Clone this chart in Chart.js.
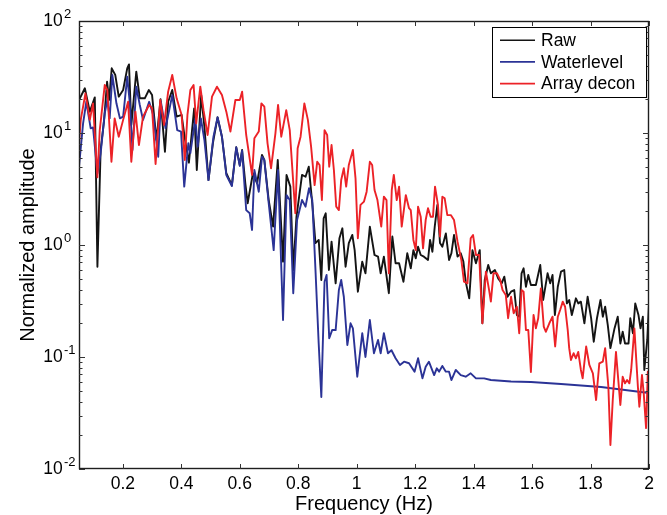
<!DOCTYPE html>
<html>
<head>
<meta charset="utf-8">
<script src="https://cdn.jsdelivr.net/npm/chart.js@4.4.1/dist/chart.umd.min.js"></script>
<style>
html,body{margin:0;padding:0;background:#fff;}
canvas{display:block;}
</style>
</head>
<body>
<canvas id="c" width="667" height="515"></canvas>
<script>
const seriesLabels = ['Raw', 'Waterlevel', 'Array decon'];
const xTickValues = [0.2, 0.4, 0.6, 0.8, 1.0, 1.2, 1.4, 1.6, 1.8, 2.0];
const yTickValues = [0.01, 0.1, 1, 10, 100];

const rawFreq = [0.050,0.070,0.087,0.104,0.113,0.124,0.136,0.146,0.153,0.162,
0.174,0.186,0.201,0.215,0.221,0.229,0.246,0.258,0.275,0.289,
0.300,0.315,0.329,0.344,0.355,0.369,0.384,0.401,0.412,0.426,
0.444,0.453,0.468,0.479,0.493,0.508,0.524,0.539,0.554,0.573,
0.588,0.600,0.608,0.619,0.627,0.645,0.659,0.676,0.684,0.699,
0.714,0.730,0.748,0.760,0.773,0.783,0.794,0.813,0.825,0.836,
0.848,0.859,0.870,0.879,0.887,0.894,0.905,0.914,0.928,0.941,
0.951,0.962,0.973,0.985,0.993,1.004,1.019,1.030,1.045,1.061,
1.073,1.082,1.093,1.110,1.122,1.133,1.145,1.160,1.173,1.185,
1.194,1.202,1.210,1.219,1.230,1.244,1.251,1.259,1.267,1.276,
1.285,1.293,1.305,1.316,1.324,1.333,1.345,1.356,1.365,1.373,
1.385,1.396,1.408,1.421,1.430,1.438,1.450,1.459,1.473,1.484,
1.496,1.505,1.516,1.528,1.539,1.548,1.556,1.564,1.571,1.579,
1.587,1.596,1.613,1.628,1.638,1.653,1.662,1.670,1.678,1.688,
1.699,1.710,1.719,1.727,1.736,1.750,1.758,1.767,1.779,1.790,
1.802,1.811,1.822,1.834,1.842,1.850,1.859,1.868,1.882,1.893,
1.902,1.910,1.918,1.930,1.936,1.945,1.953,1.964,1.971,1.979,
1.984,1.994,2.000];
const rawAmp = [19.7,25.1,15.5,20.8,0.64,7.05,13.1,28.7,19.7,37.8,
33,21.1,24.2,37.8,41,11.8,35.3,20.4,20.4,24.2,
21.8,8.66,20,6.81,19,24.2,14,14.5,8.97,5.43,
16.6,4.67,21.8,11.4,3.8,8.09,13.8,9.27,4.37,3.43,
7.45,5.18,7.05,3.56,2.36,4.37,3.56,6.36,5.74,2.52,
1.46,5.74,0.71,4.22,3.32,0.598,1.79,4.22,4.07,5.0,
2.36,1.04,1.11,0.487,1.73,1.92,0.598,1.07,0.455,1.15,
1.41,0.64,1.04,1.23,0.90,0.383,0.71,0.559,1.46,0.814,
0.787,0.559,0.787,0.371,1.19,0.687,0.687,0.47,0.843,0.619,
0.90,0.761,0.965,0.814,0.787,0.735,1.11,0.871,1.46,2.28,
1.04,0.965,1.27,0.735,0.843,1.23,0.787,0.843,0.71,0.47,
0.334,0.90,0.687,0.90,0.2,0.487,0.663,0.559,0.598,0.504,
0.455,0.521,0.345,0.383,0.396,0.237,0.229,0.559,0.619,0.424,
0.54,0.44,0.44,0.663,0.323,0.559,0.455,0.54,0.237,0.424,
0.578,0.598,0.301,0.323,0.237,0.334,0.301,0.312,0.2,0.345,
0.222,0.137,0.222,0.323,0.229,0.281,0.193,0.12,0.18,0.229,
0.132,0.168,0.132,0.132,0.222,0.163,0.301,0.237,0.18,0.229,
0.0766,0.142,0.303];

const wlFreq = [0.050,0.064,0.075,0.090,0.098,0.113,0.124,0.138,0.147,0.155,
0.164,0.178,0.190,0.201,0.215,0.224,0.233,0.246,0.258,0.269,
0.290,0.304,0.321,0.330,0.346,0.369,0.386,0.399,0.410,0.424,
0.431,0.448,0.456,0.467,0.479,0.493,0.510,0.524,0.539,0.554,
0.573,0.588,0.600,0.608,0.622,0.634,0.642,0.650,0.665,0.676,
0.684,0.699,0.716,0.731,0.748,0.760,0.771,0.783,0.796,0.813,
0.825,0.837,0.848,0.859,0.870,0.879,0.890,0.897,0.906,0.916,
0.928,0.939,0.947,0.956,0.968,0.979,0.987,1.002,1.019,1.030,
1.045,1.059,1.073,1.082,1.093,1.107,1.119,1.133,1.148,1.162,
1.179,1.198,1.210,1.225,1.236,1.247,1.265,1.274,1.282,1.293,
1.305,1.316,1.324,1.339,1.356,1.373,1.390,1.408,1.436,1.459,
1.528,1.596,1.699,1.836,2.000];
const wlAmp = [5.0,12.2,19,11,11.2,4.37,6.59,15,19.7,13.5,
33,18.4,13.5,14,31.8,18.4,7.05,25.9,17.8,13.1,
19,14.5,6.14,19,11,21.8,10.6,10.3,3.32,8.09,
6.63,13.5,7.55,13.5,8.66,3.8,9.27,13.8,9.27,4.22,
3.36,7.45,5.08,6.95,2.05,1.92,1.36,4.67,2.99,6.14,
5.74,2.36,0.90,4.67,0.214,2.79,2.52,0.371,1.67,2.52,
2.2,3.21,2.52,0.598,0.132,0.044,0.47,0.54,0.147,0.174,
0.174,0.396,0.487,0.345,0.128,0.2,0.18,0.0667,0.163,0.1,
0.214,0.108,0.142,0.108,0.163,0.108,0.115,0.0974,0.0849,0.0908,
0.0879,0.074,0.0974,0.0645,0.0819,0.0908,0.069,0.0793,0.074,0.0832,
0.074,0.074,0.0623,0.0766,0.069,0.0667,0.0715,0.0645,0.0645,0.0623,
0.0605,0.0598,0.0574,0.054,0.0477];

const adFreq = [0.050,0.056,0.072,0.087,0.098,0.113,0.121,0.138,0.147,0.161,
0.172,0.186,0.201,0.218,0.229,0.243,0.255,0.269,0.290,0.300,
0.312,0.328,0.341,0.355,0.369,0.384,0.401,0.412,0.421,0.431,
0.442,0.451,0.465,0.476,0.490,0.505,0.522,0.539,0.554,0.568,
0.585,0.600,0.608,0.622,0.642,0.650,0.665,0.674,0.684,0.695,
0.707,0.722,0.731,0.742,0.759,0.771,0.790,0.798,0.808,0.821,
0.833,0.844,0.856,0.865,0.873,0.881,0.890,0.899,0.906,0.914,
0.922,0.930,0.939,0.947,0.956,0.964,0.973,0.987,0.996,1.004,
1.013,1.025,1.034,1.045,1.053,1.061,1.071,1.084,1.093,1.102,
1.110,1.120,1.127,1.137,1.145,1.154,1.168,1.179,1.185,1.194,
1.202,1.210,1.219,1.227,1.236,1.244,1.253,1.261,1.268,1.278,
1.285,1.293,1.301,1.310,1.322,1.333,1.345,1.358,1.367,1.379,
1.390,1.398,1.408,1.419,1.430,1.442,1.453,1.459,1.468,1.480,
1.491,1.499,1.510,1.518,1.528,1.537,1.548,1.556,1.564,1.571,
1.579,1.587,1.596,1.605,1.613,1.621,1.630,1.640,1.647,1.659,
1.670,1.679,1.688,1.696,1.705,1.713,1.722,1.727,1.733,1.742,
1.750,1.758,1.767,1.773,1.785,1.796,1.808,1.819,1.830,1.842,
1.850,1.861,1.868,1.876,1.887,1.902,1.910,1.918,1.925,1.933,
1.939,1.950,1.962,1.967,1.976,1.982,1.990,1.996,2.000];
const adAmp = [8.09,13.1,22.6,13.1,18.4,4.02,10.6,26.8,24.2,5.54,
13.5,9.27,13.1,19,5.54,15.5,7.81,14,17.8,16.6,
5.29,19.7,11.8,23.4,33,20.4,14.5,5.74,14.5,24.2,
26.8,12.2,25.9,16,9.6,21.1,25.9,21.8,15.5,10.3,
19.7,19.7,23.4,9.6,4.22,8.97,10.3,18.4,17.2,8.09,
4.84,9.94,17.8,9.27,16,10.6,1.92,7.3,9.27,18.4,
13.1,7.55,3.43,5.54,5.18,2.52,10.6,9.6,5.0,7.81,
4.67,2.2,2.05,3.8,4.84,3.32,5.18,7.05,3.94,1.15,
2.28,2.44,2.99,5.54,5.18,3.1,2.52,1.46,2.7,2.52,
0.559,3.1,4.22,2.52,3.32,1.46,2.79,2.13,2.05,1.11,
0.90,2.2,1.79,0.934,1.67,2.13,1.79,1.79,3.32,2.28,
1.19,2.7,2.61,1.85,1.85,1.67,1.07,0.735,0.47,0.455,
1.15,1.23,0.814,0.814,0.2,0.578,0.396,0.312,0.559,0.559,
0.487,0.396,0.358,0.222,0.345,0.246,0.281,0.163,0.396,0.383,
0.174,0.174,0.0735,0.237,0.18,0.222,0.41,0.187,0.168,0.2,
0.229,0.124,0.229,0.263,0.312,0.281,0.174,0.12,0.094,0.108,
0.0974,0.111,0.0766,0.0645,0.124,0.0849,0.0715,0.0413,0.0879,0.0908,
0.12,0.0543,0.0164,0.0413,0.111,0.0373,0.0667,0.0582,0.0623,0.0582,
0.0766,0.18,0.0543,0.036,0.069,0.0474,0.0232,0.074,0.0667];

const seriesColors = ['#141414', '#2b3396', '#ec2227'];

const zip = (xs, ys) => xs.map((x, i) => ({ x: x, y: ys[i] }));

const FONT = "'Liberation Sans', Arial, Helvetica, sans-serif";
Chart.defaults.font.family = FONT;
Chart.defaults.color = '#000';

const decor = {
  id: 'decor',
  afterDatasetsDraw(chart) {
    const { ctx, chartArea: a, scales } = chart;
    const x = scales.x, y = scales.y;
    ctx.save();
    // frame
    ctx.strokeStyle = '#1e1e1e';
    ctx.lineWidth = 1.4;
    ctx.strokeRect(a.left + 0.5, a.top + 0.5, a.right - a.left - 1, a.bottom - a.top - 1);
    // x ticks (inward, bottom and top)
    ctx.lineWidth = 1;
    ctx.strokeStyle = '#333';
    ctx.beginPath();
    xTickValues.forEach(v => {
      const px = Math.round(x.getPixelForValue(v)) + 0.5;
      ctx.moveTo(px, a.bottom); ctx.lineTo(px, a.bottom - 5);
      ctx.moveTo(px, a.top); ctx.lineTo(px, a.top + 5);
    });
    // y ticks: majors at decades, minors 2..9
    for (let k = -2; k <= 1; k++) {
      for (let m = 1; m <= 9; m++) {
        const v = m * Math.pow(10, k);
        const py = Math.round(y.getPixelForValue(v)) + 0.5;
        const len = m === 1 ? 6 : 3.5;
        ctx.moveTo(a.left, py); ctx.lineTo(a.left + len, py);
        ctx.moveTo(a.right, py); ctx.lineTo(a.right - len, py);
      }
    }
    ctx.stroke();
    // y tick labels 10^k
    ctx.fillStyle = '#000';
    yTickValues.forEach(v => {
      const py = y.getPixelForValue(v);
      const e = Math.round(Math.log10(v));
      ctx.font = '17.5px ' + FONT;
      ctx.textAlign = 'right';
      ctx.textBaseline = 'middle';
      ctx.fillText('10', a.left - 16.3, py);
      ctx.font = '13px ' + FONT;
      ctx.textAlign = 'left';
      ctx.fillText(String(e), a.left - 15, py - 7);
    });
    // legend
    const bx = a.right - 156.7, by = a.top + 5.7, bw = 154.4, bh = 70;
    ctx.fillStyle = '#fff';
    ctx.fillRect(bx, by, bw, bh);
    ctx.strokeStyle = '#000';
    ctx.lineWidth = 1;
    ctx.strokeRect(Math.round(bx) + 0.5, Math.round(by) + 0.5, Math.round(bw), Math.round(bh));
    chart.data.datasets.forEach((ds, i) => {
      const ry = by + 13.5 + i * 21.7;
      ctx.strokeStyle = ds.borderColor;
      ctx.lineWidth = 1.6;
      ctx.beginPath();
      ctx.moveTo(bx + 7.7, ry); ctx.lineTo(bx + 42.7, ry);
      ctx.stroke();
      ctx.fillStyle = '#000';
      ctx.font = '17.5px ' + FONT;
      ctx.textAlign = 'left';
      ctx.textBaseline = 'middle';
      ctx.fillText(ds.label, bx + 48.7, ry + 1);
    });
    ctx.restore();
  }
};

new Chart(document.getElementById('c'), {
  type: 'line',
  data: {
    datasets: [
      { label: seriesLabels[0], data: zip(rawFreq, rawAmp), borderColor: seriesColors[0], order: 3 },
      { label: seriesLabels[1], data: zip(wlFreq, wlAmp), borderColor: seriesColors[1], order: 2 },
      { label: seriesLabels[2], data: zip(adFreq, adAmp), borderColor: seriesColors[2], order: 1 }
    ]
  },
  options: {
    responsive: false,
    devicePixelRatio: 1,
    animation: false,
    layout: { padding: { left: 0, right: 18, top: 21, bottom: 0 } },
    elements: {
      point: { radius: 0, hoverRadius: 0 },
      line: { borderWidth: 1.9, tension: 0, fill: false, borderJoinStyle: 'round' }
    },
    plugins: { legend: { display: false }, tooltip: { enabled: false } },
    scales: {
      x: {
        type: 'linear', min: 0.05, max: 2,
        afterBuildTicks: s => { s.ticks = xTickValues.map(v => ({ value: v })); },
        ticks: {
          font: { size: 17.5 }, color: '#000', padding: -3, maxRotation: 0, autoSkip: false,
          callback: v => String(Math.round(v * 10) / 10)
        },
        grid: { display: false },
        border: { display: false },
        title: { display: true, text: 'Frequency (Hz)', font: { size: 20 }, color: '#000', padding: { top: 0, bottom: -1 } },
        afterFit: s => { s.height = 46; }
      },
      y: {
        type: 'logarithmic', min: 0.01, max: 100,
        afterBuildTicks: s => { s.ticks = yTickValues.map(v => ({ value: v, major: true })); },
        ticks: { display: false },
        grid: { display: false },
        border: { display: false },
        title: { display: true, text: 'Normalized amplitude', font: { size: 20 }, color: '#000', padding: { top: 16, bottom: 0 } },
        afterFit: s => { s.width = 79; }
      }
    }
  },
  plugins: [decor]
});
</script>
</body>
</html>
